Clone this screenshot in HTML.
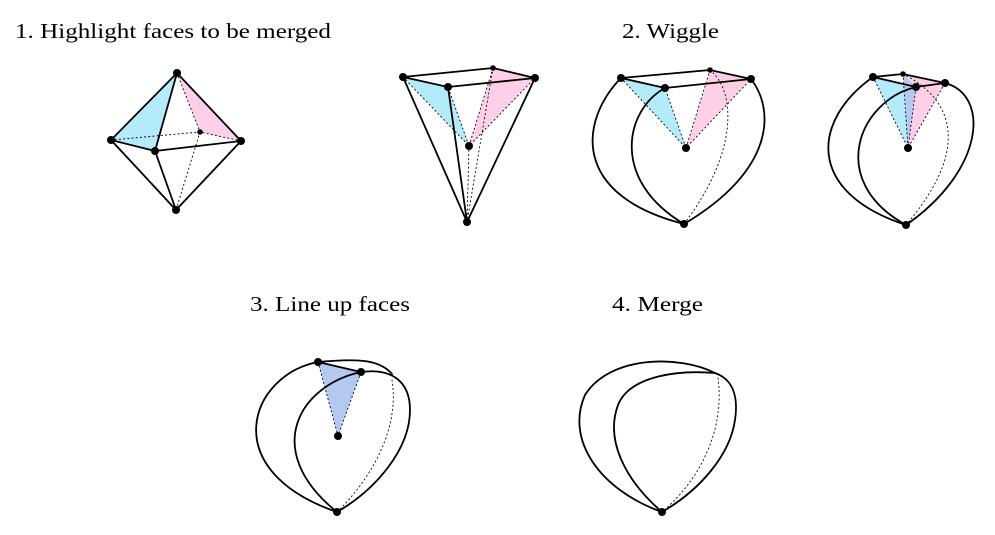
<!DOCTYPE html>
<html><head><style>body{margin:0;background:#fff}svg{display:block}</style></head><body>
<svg width="995" height="535" viewBox="0 0 995 535" xmlns="http://www.w3.org/2000/svg">
<g font-family="Liberation Serif, serif" font-size="21" fill="#000">
<text x="15" y="38" textLength="316" lengthAdjust="spacingAndGlyphs">1. Highlight faces to be merged</text>
<text x="622" y="38" textLength="97" lengthAdjust="spacingAndGlyphs">2. Wiggle</text>
<text x="250" y="311" textLength="160" lengthAdjust="spacingAndGlyphs">3. Line up faces</text>
<text x="612" y="311" textLength="91" lengthAdjust="spacingAndGlyphs">4. Merge</text>
</g>
<g stroke="#000" stroke-width="1.8" fill="none" stroke-linecap="round">
<polygon points="177,73 111,140 155,151" fill="#b3ebfb" stroke="none"/>
<polygon points="177,73 200,132 241,141" fill="#fdd0e7" stroke="none"/>
<g stroke-width="0.9" stroke-dasharray="1.2,3"><path d="M111,140 L200,132 L241,141 M200,132 L176,210 M177,73 L200,132"/></g>
<path d="M177,73 L111,140 L155,151 L177,73 L241,141 L155,151 M111,140 L176,210 L155,151 M241,141 L176,210"/>
<polygon points="403,77 448,87 469,146" fill="#b3ebfb" stroke="none"/>
<polygon points="493,68 535,78 469,146" fill="#fdd0e7" stroke="none"/>
<g stroke-width="0.9" stroke-dasharray="1.2,3"><path d="M403,77 L469,146 L448,87 M493,68 L469,146 L535,78 M469,146 L467,222 M493,68 L467,222"/></g>
<path d="M403,77 L493,68 L535,78 L448,87 L403,77 M403,77 L467,222 L448,87 M535,78 L467,222"/>
<polygon points="621,78 665,88 686,148" fill="#b3ebfb" stroke="none"/>
<polygon points="710,70 751,79 686,148" fill="#fdd0e7" stroke="none"/>
<g stroke-width="0.9" stroke-dasharray="1.2,3"><path d="M621,78 L686,148 L665,88 M710,70 L686,148 L751,79 M710,70 C735,90 740,150 684,224"/></g>
<path d="M621,78 L710,70 L751,79 L665,88 L621,78"/>
<path d="M621,78 C580,120 570,195 684,224"/>
<path d="M665,88 C625,110 610,180 684,224"/>
<path d="M751,79 C775,110 775,170 684,224"/>
<polygon points="873,77 916,87 908,148" fill="#b3ebfb" stroke="none"/>
<polygon points="903,74 945,83 908,148" fill="#fdd0e7" stroke="none"/>
<polygon points="903,74 916,87 908,148" fill="#b3c9ef" stroke="none"/>
<g stroke-width="0.9" stroke-dasharray="1.2,3"><path d="M873,77 L908,148 L916,87 M903,74 L908,148 L945,83 M903,74 C955,100 970,150 906,225"/></g>
<path d="M873,77 L903,74 L945,83 L916,87 L873,77"/>
<path d="M873,77 C812,120 805,192 906,225"/>
<path d="M916,87 C860,100 825,180 906,225"/>
<path d="M945,83 C990,95 985,170 906,225"/>
<polygon points="318,362 361,372 338,436" fill="#b3c9ef" stroke="none"/>
<g stroke-width="0.9" stroke-dasharray="1.2,3"><path d="M318,362 L338,436 L361,372 M392,380 C400,430 370,480 337,512"/></g>
<path d="M318,362 L361,372"/>
<path d="M318,362 C250,375 215,470 337,512"/>
<path d="M318,362 C360,358 380,360 392,374"/>
<path d="M361,372 C300,385 260,450 337,512"/>
<path d="M361,372 C390,368 410,380 410,410 C410,450 375,490 337,512"/>
<g stroke-width="0.9" stroke-dasharray="1.2,3"><path d="M718,378 C725,430 700,480 662,512"/></g>
<path d="M715,373 C680,355 610,355 585,395 C565,440 600,490 662,512"/>
<path d="M715,373 C680,370 630,375 618,405 C605,440 625,480 662,512"/>
<path d="M715,373 C735,380 738,400 735,420 C730,455 700,490 662,512"/>
</g>
<g fill="#000">
<circle cx="177" cy="73" r="4"/><circle cx="111" cy="140" r="4"/><circle cx="155" cy="151" r="4"/><circle cx="241" cy="141" r="4"/><circle cx="176" cy="210" r="4"/><circle cx="200" cy="132" r="2.8"/>
<circle cx="403" cy="77" r="4"/><circle cx="448" cy="87" r="4"/><circle cx="493" cy="68" r="2.8"/><circle cx="535" cy="78" r="4"/><circle cx="469" cy="146" r="4"/><circle cx="467" cy="222" r="4"/>
<circle cx="621" cy="78" r="4"/><circle cx="665" cy="88" r="4"/><circle cx="710" cy="70" r="2.8"/><circle cx="751" cy="79" r="4"/><circle cx="686" cy="148" r="4"/><circle cx="684" cy="224" r="4"/>
<circle cx="873" cy="77" r="4"/><circle cx="903" cy="74" r="2.8"/><circle cx="916" cy="87" r="4"/><circle cx="945" cy="83" r="4"/><circle cx="908" cy="148" r="4"/><circle cx="906" cy="225" r="4"/>
<circle cx="318" cy="362" r="4"/><circle cx="361" cy="372" r="4"/><circle cx="338" cy="436" r="4"/><circle cx="337" cy="512" r="4"/>
<circle cx="662" cy="512" r="4"/>
</g>
</svg>
</body></html>
